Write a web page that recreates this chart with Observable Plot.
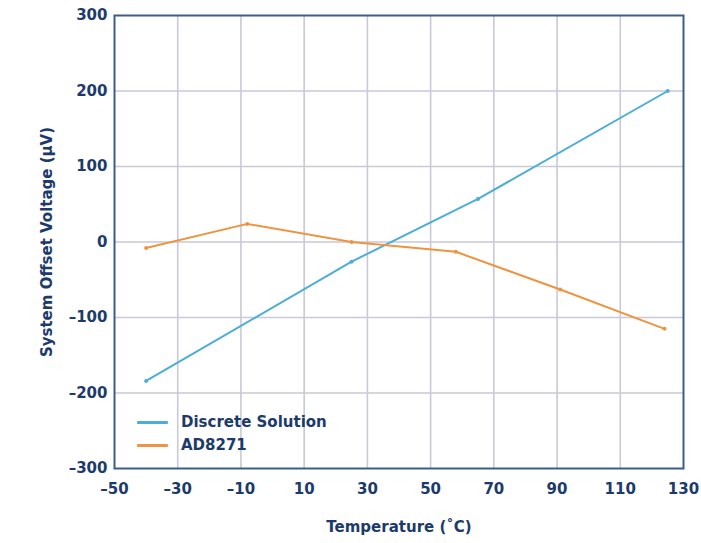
<!DOCTYPE html>
<html><head><meta charset="utf-8">
<script src="https://cdn.jsdelivr.net/npm/d3@7"></script>
<script src="https://cdn.jsdelivr.net/npm/@observablehq/plot@0.6"></script>
<style>
body{margin:0;background:#fff}
#wrap{position:relative;width:701px;height:543px;font-family:"DejaVu Sans",sans-serif;font-weight:bold;color:#1d3b6a}
#legend{position:absolute;left:137px;top:411px;font-size:15px;line-height:23px}
#legend .row{display:flex;align-items:center}
#legend .sw{display:inline-block;width:31px;height:3px;margin-right:13px;border-radius:1px}
</style>
</head><body><div id="wrap"><div id="legend"></div></div>
<script>
const seriesNames = ["Discrete Solution", "AD8271"];
const seriesColors = ["#4aaed6", "#ee9440"];
const discreteTemp = [-40, 25, 65, 125];
const discreteOffset = [-184, -26, 57, 200];
const ad8271Temp = [-40, -8, 25, 58, 91, 124];
const ad8271Offset = [-8, 24, 0, -13, -63, -115];
const xTicks = [-50, -30, -10, 10, 30, 50, 70, 90, 110, 130];
const yTicks = [-300, -200, -100, 0, 100, 200, 300];
const xGrid = [-30, -10, 10, 30, 50, 70, 90, 110];
const yGrid = [-200, -100, 0, 100, 200];
const xTitle = "Temperature (˚C)";
const yTitle = "System Offset Voltage (µV)";

const data = [
  ...discreteTemp.map((t, i) => ({series: seriesNames[0], t, v: discreteOffset[i]})),
  ...ad8271Temp.map((t, i) => ({series: seriesNames[1], t, v: ad8271Offset[i]}))
];
const fmt = d => (d < 0 ? "–" + Math.abs(d) : String(d));
const textColor = "#1d3b6a";

const chart = Plot.plot({
  width: 701, height: 543,
  marginLeft: 114, marginRight: 18, marginTop: 15, marginBottom: 75,
  style: {fontFamily: "DejaVu Sans", fontWeight: "bold", fontSize: "15px", color: textColor, background: "#fff"},
  x: {domain: [-50, 130]},
  y: {domain: [-300, 300]},
  color: {domain: seriesNames, range: seriesColors},
  marks: [
    Plot.gridX(xGrid, {stroke: "#c9c9da", strokeOpacity: 1, strokeWidth: 1.6}),
    Plot.gridY(yGrid, {stroke: "#c9c9da", strokeOpacity: 1, strokeWidth: 1.6}),
    Plot.line(data, {x: "t", y: "v", z: "series", stroke: "series", strokeWidth: 2}),
    Plot.dot(data, {x: "t", y: "v", fill: "series", r: 2}),
    Plot.frame({stroke: "#3d5d86", strokeWidth: 2}),
    Plot.axisX(xTicks, {tickSize: 0, tickPadding: 15, tickFormat: fmt, label: null, fill: textColor, fontSize: 15}),
    Plot.axisY(yTicks, {tickSize: 0, tickPadding: 7, tickFormat: fmt, label: null, fill: textColor, fontSize: 15}),
    Plot.text([xTitle], {frameAnchor: "bottom", dy: 63, fontSize: 15, fill: textColor, text: d => d}),
    Plot.text([yTitle], {frameAnchor: "left", dx: -67, rotate: -90, textAnchor: "middle", fontSize: 15, fill: textColor, text: d => d})
  ]
});
document.getElementById("wrap").prepend(chart);

const legend = document.getElementById("legend");
seriesNames.forEach((name, i) => {
  const row = document.createElement("div");
  row.className = "row";
  const sw = document.createElement("span");
  sw.className = "sw";
  sw.style.background = seriesColors[i];
  const label = document.createElement("span");
  label.textContent = name;
  row.append(sw, label);
  legend.append(row);
});
</script>
</body></html>
